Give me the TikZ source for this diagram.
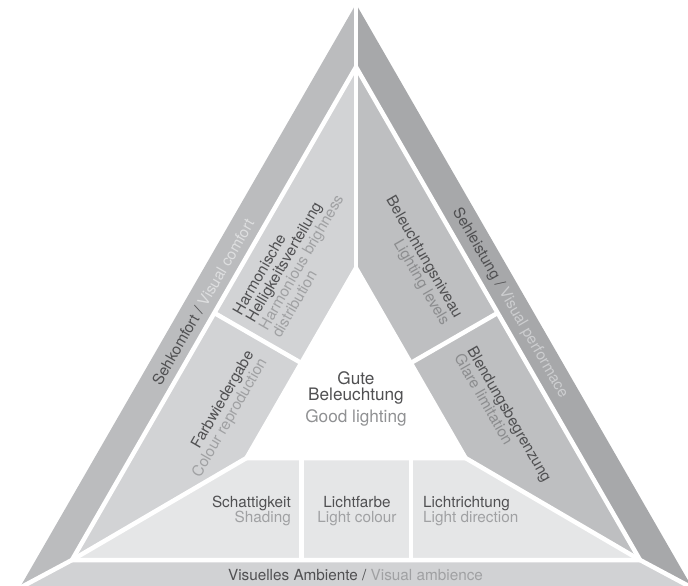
\documentclass[tikz,border=0pt]{standalone}
\usepackage{fontspec}
\setmainfont{TeX Gyre Heros}
\definecolor{outL}{HTML}{BBBCBE}
\definecolor{outR}{HTML}{A7A8AA}
\definecolor{outB}{HTML}{D1D2D4}
\definecolor{cellL}{HTML}{D2D3D5}
\definecolor{cellR}{HTML}{BEBFC1}
\definecolor{cellB}{HTML}{E5E6E7}
\definecolor{dk}{HTML}{505052}
\definecolor{lt}{HTML}{A0A1A3}
\definecolor{ltR}{HTML}{8C8D8F}
\definecolor{bandL}{HTML}{DEDFE0}
\definecolor{bandR}{HTML}{CDCED0}
\begin{document}
\begin{tikzpicture}[x=1pt,y=-1pt,
  sep/.style={draw=white,line width=4.5pt,line join=round},
  lbl/.style={font=\fontsize{15.3}{15}\selectfont, inner sep=0pt, text=dk},
  big/.style={font=\fontsize{17.2}{16}\selectfont, inner sep=0pt, text=dk}]
\useasboundingbox (0,0) rectangle (688,586);
% geometry
\coordinate (A) at (356,4);
\coordinate (L) at (19.6,588);
\coordinate (R) at (692.4,588);
\coordinate (a) at (356,67);
\coordinate (l) at (72,560);
\coordinate (r) at (640,560);
\coordinate (c) at (356,268);
\coordinate (cl) at (246.5,458);
\coordinate (cr) at (465.5,458);
\coordinate (ml) at (301.25,363);
\coordinate (mr) at (410.75,363);
\coordinate (pl) at (214.4,313);
\coordinate (pr) at (497.6,313);
\coordinate (b1) at (301.25,458);
\coordinate (b1d) at (301.25,560);
\coordinate (b2) at (410.75,458);
\coordinate (b2d) at (410.75,560);
% outer bands
\fill[outL] (A) -- (a) -- (l) -- (L) -- cycle;
\fill[outR] (A) -- (R) -- (r) -- (a) -- cycle;
\fill[outB] (L) -- (l) -- (r) -- (R) -- cycle;
% inner cells
\fill[cellL] (a) -- (pl) -- (ml) -- (c) -- cycle;
\fill[cellL] (pl) -- (l) -- (cl) -- (ml) -- cycle;
\fill[cellR] (a) -- (c) -- (mr) -- (pr) -- cycle;
\fill[cellR] (pr) -- (mr) -- (cr) -- (r) -- cycle;
\fill[cellB] (l) -- (cl) -- (cr) -- (r) -- cycle;
\fill[white] (c) -- (cl) -- (cr) -- cycle;
% separators
\draw[sep] (A) -- (a);
\draw[sep] (l) -- (L);
\draw[sep] (r) -- (R);
\draw[sep] (a) -- (l) -- (r) -- cycle;
\draw[sep] (a) -- (c);
\draw[sep] (pl) -- (ml);
\draw[sep] (pr) -- (mr);
\draw[sep] (l) -- (cl);
\draw[sep] (r) -- (cr);
\draw[sep] (b1) -- (b1d);
\draw[sep] (b2) -- (b2d);
\draw[sep] (c) -- (cl) -- (cr) -- cycle;
% band labels
\node[lbl, rotate=60] (sk) at (203,302) {Sehkomfort / \textcolor{bandL}{Visual comfort}};
\node[lbl, rotate=-60] (sl) at (510,303) {Sehleistung / \textcolor{bandR}{Visual performace}};
\node[lbl, anchor=base] (va) at (355.5,580) {Visuelles Ambiente / \textcolor{lt}{Visual ambience}};
% left cells
\begin{scope}[shift={(241,316)}, rotate=60, transform shape]
\node[lbl, anchor=north west, align=left] (hb) at (0,-11)
  {Harmonische\\Helligkeitsverteilung\\\textcolor{lt}{Harmonious brighness}\\\textcolor{lt}{distribution}};
\end{scope}
\begin{scope}[shift={(254,354)}, rotate=60, transform shape]
\node[lbl, anchor=north east, align=right] (fw) at (0,-11)
  {Farbwiedergabe\\\textcolor{lt}{Colour reproduction}};
\end{scope}
% right cells
\begin{scope}[shift={(455,319)}, rotate=-60, transform shape]
\node[lbl, anchor=north east, align=right] (bn) at (0,-11)
  {Beleuchtungsniveau\\\textcolor{ltR}{Lighting levels}};
\end{scope}
\begin{scope}[shift={(467,350)}, rotate=-60, transform shape]
\node[lbl, anchor=north west, align=left] (bb) at (0,-11)
  {Blendungsbegrenzung\\\textcolor{ltR}{Glare limitation}};
\end{scope}
% centre
\node[big, anchor=base] (c1) at (356,384) {Gute};
\node[big, anchor=base] (c2) at (356,400) {Beleuchtung};
\node[big, anchor=base, text=lt!90!black] (c3) at (356,422) {Good lighting};
% bottom cells
\node[lbl, anchor=base east] (s1) at (291,507) {Schattigkeit};
\node[lbl, anchor=base east, text=lt] (s2) at (291,522) {Shading};
\node[lbl, anchor=base] (lf1) at (357,507) {Lichtfarbe};
\node[lbl, anchor=base, text=lt] (lf2) at (357,522) {Light colour};
\node[lbl, anchor=base west] (lr1) at (423,507) {Lichtrichtung};
\node[lbl, anchor=base west, text=lt] (lr2) at (423,522) {Light direction};
\end{tikzpicture}
\end{document}
